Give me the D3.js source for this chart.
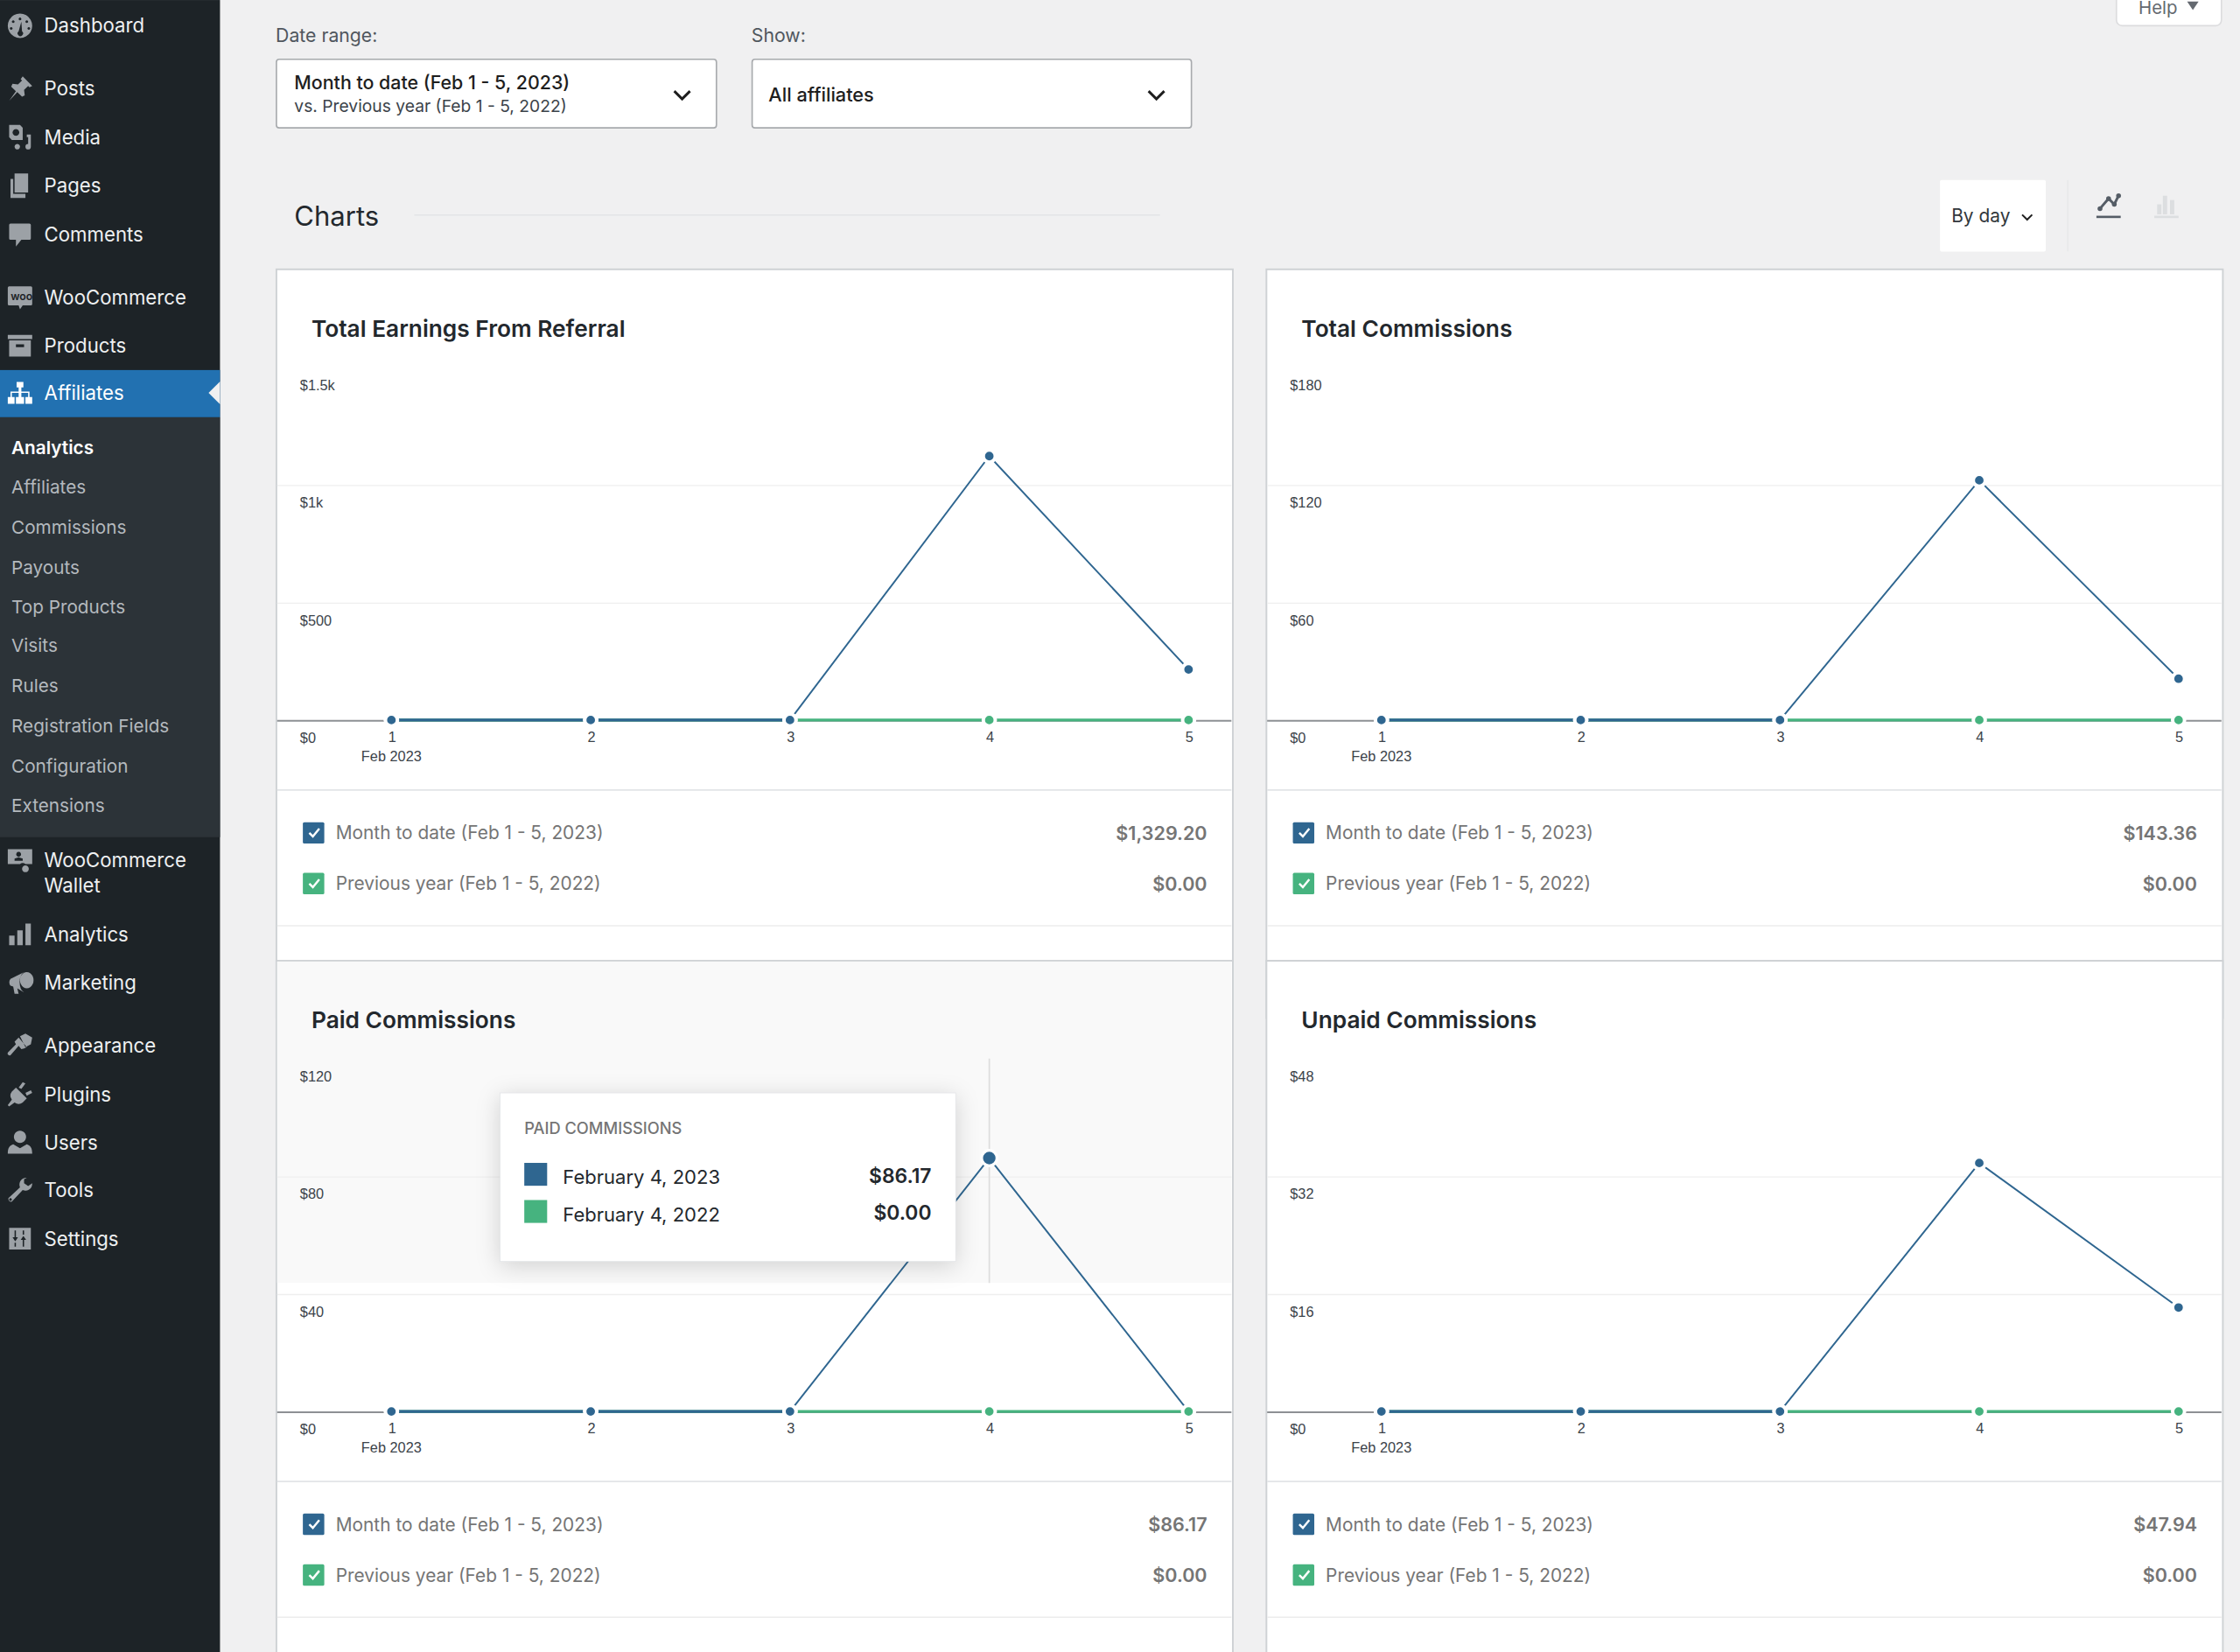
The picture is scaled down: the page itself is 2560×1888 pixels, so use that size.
<!DOCTYPE html>
<html>
<head>
<meta charset="utf-8">
<style>
  html, body { margin: 0; padding: 0; background: #f0f0f1; }
  svg { display: block; font-family: Inter, "Noto Sans", sans-serif; }
  .axis text { font-family: "Liberation Sans", sans-serif; font-size: 10px; fill: #3c434a; }
</style>
<script src="https://cdn.jsdelivr.net/npm/d3@7"></script>
</head>
<body>
<script>
// Chart data
const days = [1, 2, 3, 4, 5];
const earnings2023 = [0, 0, 0, 1122, 215];
const earnings2022 = [0, 0, 0, 0, 0];
const totalComm2023 = [0, 0, 0, 122.3, 21.06];
const totalComm2022 = [0, 0, 0, 0, 0];
const paidComm2023 = [0, 0, 0, 86.17, 0];
const paidComm2022 = [0, 0, 0, 0, 0];
const unpaidComm2023 = [0, 0, 0, 33.8, 14.14];
const unpaidComm2022 = [0, 0, 0, 0, 0];

const chartTitles = ['Total Earnings From Referral', 'Total Commissions', 'Paid Commissions', 'Unpaid Commissions'];
const yTicks = [[0, 500, 1000, 1500], [0, 60, 120, 180], [0, 40, 80, 120], [0, 16, 32, 48]];
const yTickLabels = [['$0', '$500', '$1k', '$1.5k'], ['$0', '$60', '$120', '$180'], ['$0', '$40', '$80', '$120'], ['$0', '$16', '$32', '$48']];
const totals2023 = ['$1,329.20', '$143.36', '$86.17', '$47.94'];
const totals2022 = ['$0.00', '$0.00', '$0.00', '$0.00'];
const series2023 = [earnings2023, totalComm2023, paidComm2023, unpaidComm2023];
const series2022 = [earnings2022, totalComm2022, paidComm2022, unpaidComm2022];

const legendLabels = ['Month to date (Feb 1 - 5, 2023)', 'Previous year (Feb 1 - 5, 2022)'];
const tooltipRows = [['February 4, 2023', '$86.17'], ['February 4, 2022', '$0.00']];

const menuTop = [['Dashboard', 18, 'dashboard'], ['Posts', 62, 'posts'], ['Media', 96, 'media'], ['Pages', 130, 'pages'], ['Comments', 164, 'comments'], ['WooCommerce', 208, 'woo'], ['Products', 242, 'products'], ['Affiliates', 275, 'sitemap']];
const menuSub = [['Analytics', 313], ['Affiliates', 341], ['Commissions', 369], ['Payouts', 397], ['Top Products', 425], ['Visits', 452], ['Rules', 480], ['Registration Fields', 508], ['Configuration', 536], ['Extensions', 564]];
const menuBottom = [['WooCommerce', 602, 'wallet'], ['Wallet', 620, null], ['Analytics', 654, 'bars'], ['Marketing', 688, 'megaphone'], ['Appearance', 732, 'brush'], ['Plugins', 766, 'plug'], ['Users', 800, 'user'], ['Tools', 833, 'wrench'], ['Settings', 867, 'sliders']];

// Rough menu icons on a 20 unit box
const icons = {
  dashboard: 'M10 1a9 9 0 1 1-.01 0zM10 4a1 1 0 1 0 .01 0zM5 6a1 1 0 1 0 .01 0zM15 6a1 1 0 1 0 .01 0zM3.500 11a1 1 0 1 0 .01 0zM16.500 11a1 1 0 1 0 .01 0zM11 7l-2 7a2 2 0 1 0 2.500 0z',
  posts: 'M12 1l7 7-2 1-1-1-3 3 .5 4-2 1-3.500-3.500L2 19l5-7-3.500-3.500 1-2 4 .5 3-3-1-1z',
  media: 'M2 1h8l2 2v9H4l-2-2zM7 4a2.500 2.500 0 1 0 .01 0zM15 8h3v9a2 2 0 1 1-2-2V10h-1zM8 15a2 2 0 1 0 .01 0z',
  pages: 'M6 1h10v14H6zM3 5h2v11h9v3H3z',
  comments: 'M3 2h14a1 1 0 0 1 1 1v10a1 1 0 0 1-1 1h-6l-4 5v-5H3a1 1 0 0 1-1-1V3a1 1 0 0 1 1-1z',
  woo: 'M2 2h16a1 1 0 0 1 1 1v12a1 1 0 0 1-1 1h-6l-2 3-1-3H2a1 1 0 0 1-1-1V3a1 1 0 0 1 1-1z',
  products: 'M1 2h18v3H1zM2 6h16v12H2zM7 9v2h6V9z',
  sitemap: 'M7.500 2h5v4H11v3h6v4h2v5h-5v-5h2v-3h-5v3h2v5H7v-5h2v-3H4v3h2v5H1v-5h2V9h6V6H7.500z',
  wallet: 'M1 2h18v11h-5a3 3 0 0 0-4 0H1zM9 4a1.800 1.800 0 1 0 .01 0zM6 10.500h6V9l-3-1-3 1zM14 14a2.500 2.500 0 1 0 .01 0z',
  bars: 'M2 11h4v7H2zM8 7h4v11H8zM14 2h4v16h-4z',
  megaphone: 'M15 2a5 6 0 1 1-.01 0zM13 2L3 7a2 3 0 0 0 0 5l2 .7L6 18h3l-1-4 5 3a5 8 0 0 1 0-15z',
  brush: 'M10 3l4-2 5 3-1 5-4 2zM9 4l6 7-2 1-2 .5L9 10 3 17a1.500 1.500 0 0 1-2-2l6-6-1-2z',
  plug: 'M12 1l2 1-3 4-2-1zM18 7l1 2-4 2-1-2zM7 5l8 8-3 3a5 5 0 0 1-6 0l-4 3-1-1 3-4a5 5 0 0 1 0-6z',
  user: 'M10 1a4.500 4.500 0 1 1-.01 0zM5 11l5 3 5-3c3 1 4 3 4 7H1c0-4 1-6 4-7z',
  wrench: 'M15 1a5 5 0 0 0-5 7L1.500 16a2 2 0 0 0 2.500 2.500L12 10a5 5 0 0 0 7-5l-3 2-3-2 0-3zM3 16a1 1 0 1 0 .01 0z',
  sliders: 'M2 2h16v16H2zM6 4v5H4.500L6.500 12 8.500 9H7V4zM13 16v-5h1.500l-2-3-2 3H12v5zM6 13v3h1v-3zM13 4v3h-1V4z'
};

const blue = '#2f6690';
const green = '#46b37f';

// Everything below is laid out on the 1568 wide picture grid
const svg = d3.select('body').append('svg')
  .attr('width', 2560)
  .attr('height', 1888)
  .attr('viewBox', '0 0 1568 1156.35');

function label(parent, x, y, str, opts = {}) {
  return parent.append('text')
    .attr('x', x)
    .attr('y', y)
    .attr('dy', '.36em')
    .attr('text-anchor', opts.anchor || 'start')
    .attr('font-size', opts.size || 13)
    .attr('font-weight', opts.weight || 400)
    .attr('fill', opts.fill || '#1e1e1e')
    .text(str);
}

function chevron(parent, x, y, r, w) {
  parent.append('path')
    .attr('d', `M${x - r},${y - r / 2}L${x},${y + r / 2}L${x + r},${y - r / 2}`)
    .attr('fill', 'none')
    .attr('stroke', '#1e1e1e')
    .attr('stroke-width', w);
}

// Page background
svg.append('rect').attr('width', 1568).attr('height', 1157).attr('fill', '#f0f0f1');

// Admin sidebar
const side = svg.append('g');
side.append('rect').attr('width', 154).attr('height', 1157).attr('fill', '#1d2327');
side.append('rect').attr('y', 292).attr('width', 154).attr('height', 294).attr('fill', '#2c3338');
side.append('rect').attr('y', 259).attr('width', 154).attr('height', 33).attr('fill', '#2271b1');
side.append('path').attr('d', 'M154,267L146,275L154,283Z').attr('fill', '#f0f0f1');

function drawIcon(name, y, fill) {
  side.append('path')
    .attr('transform', `translate(4.500,${y - 9.500}) scale(.95)`)
    .attr('d', icons[name])
    .attr('fill', fill)
    .attr('fill-rule', 'evenodd');
}

menuTop.concat(menuBottom).forEach(([name, y, icon]) => {
  const active = y === 275;
  label(side, 31, y, name, { size: 13.600, fill: active ? '#fff' : '#eef0f1' });
  if (icon) drawIcon(icon, y, active ? '#fff' : '#9ca1a6');
});
label(side, 7.500, 207.500, 'woo', { size: 7.500, fill: '#1d2327', weight: 600 });

menuSub.forEach(([name, y], i) => {
  label(side, 8, y, name, { size: 12.700, fill: i === 0 ? '#fff' : '#b4b9be', weight: i === 0 ? 600 : 400 });
});

// Filters
label(svg, 193, 25, 'Date range:', { fill: '#50575e' });
label(svg, 526, 25, 'Show:', { fill: '#50575e' });

[[193, 308], [526, 307.500]].forEach(([x, w]) => {
  svg.append('rect').attr('x', x + .5).attr('y', 41.500).attr('width', w).attr('height', 48)
    .attr('rx', 2).attr('fill', '#fff').attr('stroke', '#a7aaad');
});
label(svg, 206, 58, 'Month to date (Feb 1 - 5, 2023)', { weight: 500, size: 13.100 });
label(svg, 206, 74, 'vs. Previous year (Feb 1 - 5, 2022)', { size: 11.800, fill: '#3c434a' });
chevron(svg, 477.500, 66.500, 5.500, 1.800);
label(svg, 538, 66, 'All affiliates', { weight: 500, size: 13.300 });
chevron(svg, 809.500, 66.500, 5.500, 1.800);

// Help tab
svg.append('path').attr('d', 'M1481.500,0V14a4,4 0 0 0 4,4H1551a4,4 0 0 0 4-4V0')
  .attr('fill', '#fff').attr('stroke', '#dcdcde');
label(svg, 1497, 5.500, 'Help', { fill: '#646970', size: 12.500 });
svg.append('path').attr('d', 'M1531,1h8l-4,6Z').attr('fill', '#646970');

// Section header
label(svg, 206, 151, 'Charts', { size: 19, fill: '#23282d' });
svg.append('line').attr('x1', 290).attr('x2', 812).attr('y1', 150.500).attr('y2', 150.500).attr('stroke', '#e2e4e7');
svg.append('rect').attr('x', 1358).attr('y', 126).attr('width', 74).attr('height', 50).attr('rx', 1).attr('fill', '#fff');
label(svg, 1366, 151, 'By day', { size: 12.800, fill: '#32373c' });
chevron(svg, 1419, 152, 3.500, 1.200);
svg.append('line').attr('x1', 1447.500).attr('x2', 1447.500).attr('y1', 126).attr('y2', 176).attr('stroke', '#e8e9ea');
svg.append('path').attr('d', 'M1470,146L1476,139L1480,143L1483,137')
  .attr('fill', 'none').attr('stroke', '#555d66').attr('stroke-width', 1.800);
svg.selectAll('circle.typeDot').data([[1470, 146], [1476, 139], [1480, 143], [1483, 137]]).enter().append('circle')
  .attr('class', 'typeDot').attr('cx', d => d[0]).attr('cy', d => d[1]).attr('r', 1.700).attr('fill', '#555d66');
svg.append('rect').attr('x', 1467.500).attr('y', 151).attr('width', 17).attr('height', 1.600).attr('fill', '#555d66');
[[1510, 143, 7], [1514, 137, 13], [1519, 140, 10]].forEach(([x, y, h]) => {
  svg.append('rect').attr('x', x).attr('y', y).attr('width', 3).attr('height', h).attr('fill', '#dcdee0');
});
svg.append('rect').attr('x', 1508).attr('y', 151).attr('width', 17).attr('height', 1.600).attr('fill', '#dcdee0');

// Card grid
const cardXs = [193, 886];
const cardYs = [188, 672];

// One card per metric, drawn in reading order
chartTitles.forEach((title, i) => {
  const left = cardXs[i % 2];
  const top = cardYs[Math.floor(i / 2)];
  const hovered = i === 2;
  const g = svg.append('g').attr('transform', `translate(${left},${top})`);

  g.append('rect').attr('x', .5).attr('y', .5).attr('width', 669.500).attr('height', 484 + 40)
    .attr('fill', '#fff').attr('stroke', '#cfd2d5').attr('stroke-width', 1.200);

  // The hovered card is tinted in its upper part only
  if (hovered) {
    g.append('rect').attr('x', 1).attr('y', 1).attr('width', 668).attr('height', 225).attr('fill', '#f9f9f9');
  }

  label(g, 25, 42, title, { size: 16.100, weight: 600, fill: '#23282d' });

  const x = d3.scalePoint().domain(days).range([81, 639]);
  const y = d3.scaleLinear().domain(d3.extent(yTicks[i])).range([316, 69]);
  const yMax = d3.max(yTicks[i]);

  // Horizontal grid and y labels, the top tick has no line in the picture
  const yAxis = g.append('g')
    .attr('class', 'axis')
    .attr('transform', 'translate(1,0)')
    .call(d3.axisRight(y)
      .tickValues(yTicks[i])
      .tickFormat((d, k) => yTickLabels[i][k])
      .tickSize(668));
  yAxis.select('.domain').remove();
  yAxis.selectAll('line')
    .attr('stroke', d => d === 0 ? '#8d9094' : '#efefef')
    .attr('stroke-width', d => d === 0 ? 1.200 : .8)
    .attr('opacity', d => d === yMax ? 0 : 1);
  yAxis.selectAll('text').attr('x', 16).attr('dy', 0).attr('y', 15.500).attr('text-anchor', 'start');

  // Day labels, month name below the first one
  const xAxis = g.append('g')
    .attr('class', 'axis')
    .attr('transform', 'translate(0,316)')
    .call(d3.axisBottom(x).tickSize(0).tickPadding(8));
  xAxis.select('.domain').remove();
  label(g, 81, 341, 'Feb 2023', { anchor: 'middle', size: 10, fill: '#3c434a' })
    .style('font-family', '"Liberation Sans", sans-serif');

  // Hover guide sits behind the series
  if (hovered) {
    g.append('line').attr('x1', x(4)).attr('x2', x(4)).attr('y1', 69).attr('y2', 226).attr('stroke', '#dddddd');
  }

  // Series: last year below, this year on top. The flat part reads heavier than the slopes.
  const line = d3.line().x((d, k) => x(days[k])).y(d => y(d));
  g.append('path').attr('d', line(series2022[i])).attr('fill', 'none').attr('stroke', green).attr('stroke-width', 1.900);
  g.append('path').attr('d', line(series2023[i].slice(0, 3))).attr('fill', 'none').attr('stroke', blue).attr('stroke-width', 1.900);
  g.append('path').attr('d', d3.line().x((d, k) => x(days[k + 2])).y(d => y(d))(series2023[i].slice(2)))
    .attr('fill', 'none').attr('stroke', blue).attr('stroke-width', 1.200);

  g.selectAll('circle.prev').data(series2022[i]).enter().append('circle')
    .attr('class', 'prev')
    .attr('cx', (d, k) => x(days[k]))
    .attr('cy', d => y(d))
    .attr('r', 4.200)
    .attr('fill', green)
    .attr('stroke', '#fff')
    .attr('stroke-width', 2.400);
  g.selectAll('circle.curr').data(series2023[i]).enter().append('circle')
    .attr('class', 'curr')
    .attr('cx', (d, k) => x(days[k]))
    .attr('cy', d => y(d))
    .attr('r', (d, k) => hovered && k === 3 ? 5.400 : 4.200)
    .attr('fill', blue)
    .attr('stroke', '#fff')
    .attr('stroke-width', (d, k) => hovered && k === 3 ? 2 : 2.400)
    .attr('display', (d, k) => k > 2 && d === 0 ? 'none' : null);

  // Legend block
  g.append('line').attr('x1', 1).attr('x2', 669).attr('y1', 365).attr('y2', 365).attr('stroke', '#e2e4e7');
  g.append('line').attr('x1', 1).attr('x2', 669).attr('y1', 460).attr('y2', 460).attr('stroke', '#ececec');

  [[395, blue, totals2023[i]], [430.500, green, totals2022[i]]].forEach(([ly, color, total], k) => {
    g.append('rect').attr('x', 19).attr('y', ly - 7.500).attr('width', 15).attr('height', 15).attr('rx', 1).attr('fill', color);
    g.append('path').attr('d', `M23.500,${ly}l2.500,2.500l4.500-5.500`).attr('fill', 'none').attr('stroke', '#fff').attr('stroke-width', 1.500);
    label(g, 42, ly, legendLabels[k], { size: 12.800, fill: '#757575' });
    label(g, 652, ly, total, { anchor: 'end', size: 13.200, weight: 600, fill: '#757575' });
  });
});

// Tooltip over the paid commissions chart
const tip = svg.append('g');
tip.append('rect').attr('x', 350).attr('y', 765).attr('width', 319).attr('height', 118)
  .attr('fill', '#fff').attr('stroke', '#e2e4e7').attr('stroke-width', .5)
  .style('filter', 'drop-shadow(0 3px 8px rgba(0,0,0,.16))');
label(tip, 367, 790, 'PAID COMMISSIONS', { size: 11.200, weight: 500, fill: '#757575' });
tooltipRows.forEach(([date, value], k) => {
  const rowY = 824 + k * 26;
  tip.append('rect').attr('x', 367).attr('y', rowY - 10).attr('width', 16).attr('height', 16).attr('fill', k === 0 ? blue : green);
  label(tip, 394, rowY, date, { size: 13.500, fill: '#23282d' });
  label(tip, 652, rowY - 1, value, { anchor: 'end', size: 14, weight: 600, fill: '#23282d' });
});
</script>
</body>
</html>
